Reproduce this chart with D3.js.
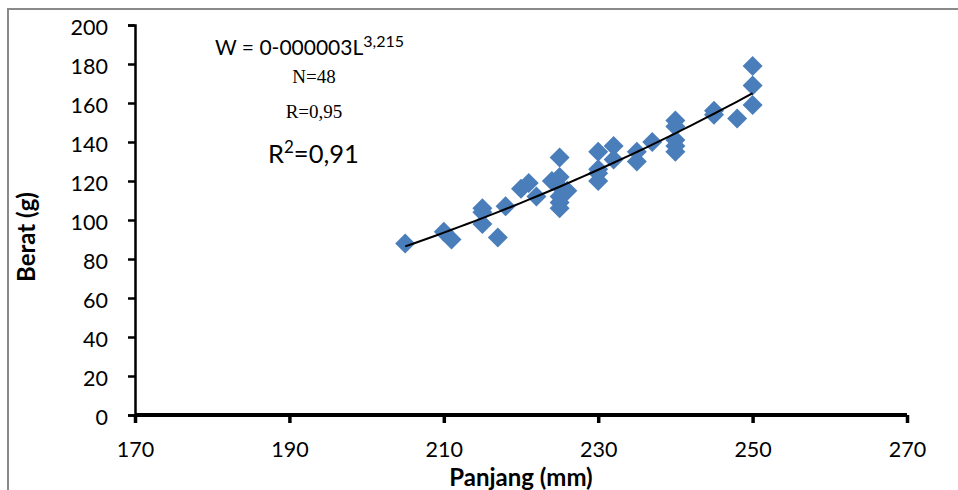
<!DOCTYPE html>
<html>
<head>
<meta charset="utf-8">
<script src="https://cdn.jsdelivr.net/npm/d3@7"></script>
<style>
  body { margin: 0; background: #fff; }
  text { font-family: Lato, "Open Sans", sans-serif; fill: #000; }
</style>
</head>
<body>
<div id="chart"></div>
<script>
var width = 958;
var height = 490;

// Data: panjang (mm) dan berat (g)
var panjang = [205, 210, 211, 215, 215, 215, 217, 218, 220, 221, 222, 224,
               225, 225, 225, 225, 225, 225, 226, 230, 230, 230, 230, 232, 232,
               235, 235, 237, 240, 240, 240, 240, 240, 245, 245, 248, 250, 250, 250];
var berat   = [88, 94, 90, 106, 104, 98, 91, 107, 116, 119, 112, 120,
               132, 122, 117, 112, 109, 106, 115, 135, 126, 124, 120, 138, 131,
               135, 130, 140, 151, 148, 141, 138, 135, 156, 154, 152, 179, 169, 159];
var xTicks = [170, 190, 210, 230, 250, 270];
var yTicks = [0, 20, 40, 60, 80, 100, 120, 140, 160, 180, 200];

var svg = d3.select("#chart").append("svg")
            .attr("width", width)
            .attr("height", height);

// bingkai
svg.append("rect")
   .attr("x", 8).attr("y", 9)
   .attr("width", 960).attr("height", 500)
   .attr("fill", "none")
   .attr("stroke", "#8a8a8a")
   .attr("stroke-width", 2);

var x = d3.scaleLinear().domain([170, 270]).range([135, 907]);
var y = d3.scaleLinear().domain([0, 200]).range([415, 25]);

// sumbu Y
var gy = svg.append("g").attr("transform", "translate(" + x(170) + ",0)")
            .call(d3.axisLeft(y).tickValues(yTicks).tickSize(7).tickPadding(20));
gy.select(".domain").attr("stroke-width", 2.5).attr("stroke", "#000");
gy.selectAll(".tick line").attr("stroke-width", 2.5);
gy.selectAll(".tick text").style("font-size", "21.5px").attr("dy", "0.42em");

// sumbu X
var gx = svg.append("g").attr("transform", "translate(0," + y(0) + ")")
            .call(d3.axisBottom(x).tickValues(xTicks).tickSize(8).tickPadding(19));
gx.select(".domain").attr("stroke-width", 4).attr("stroke", "#000")
  .attr("d", "M" + x(170) + ",0H" + x(270));
gx.selectAll(".tick line").attr("stroke-width", 3.5);
gx.selectAll(".tick text").style("font-size", "21.5px");

// judul sumbu
svg.append("text")
   .attr("transform", "translate(35,237) rotate(-90)")
   .attr("text-anchor", "middle")
   .style("font-size", "24px").style("font-weight", "bold")
   .text("Berat (g)");
svg.append("text")
   .attr("x", 521).attr("y", 486)
   .attr("text-anchor", "middle")
   .style("font-size", "24px").style("font-weight", "bold")
   .text("Panjang (mm)");

// titik data (belah ketupat)
var pts = panjang.map(function(p, i) { return [p, berat[i]]; });
svg.append("g").selectAll("path")
   .data(pts)
   .enter().append("path")
   .attr("transform", function(d) { return "translate(" + x(d[0]) + "," + y(d[1]) + ")"; })
   .attr("d", "M0,-10L10,0L0,10L-10,0Z")
   .attr("fill", "#4a7ebb");

// garis tren power (regresi log-log)
var lx = pts.map(function(d) { return Math.log(d[0]); });
var ly = pts.map(function(d) { return Math.log(d[1]); });
var mx = d3.mean(lx), my = d3.mean(ly);
var b = d3.sum(lx, function(v, i) { return (v - mx) * (ly[i] - my); }) /
        d3.sum(lx, function(v) { return (v - mx) * (v - mx); });
var a = Math.exp(my - b * mx);
var trend = d3.range(d3.min(panjang), d3.max(panjang) + 0.5, 1)
              .map(function(L) { return [L, a * Math.pow(L, b)]; });
svg.append("path")
   .datum(trend)
   .attr("fill", "none")
   .attr("stroke", "#000")
   .attr("stroke-width", 2)
   .attr("d", d3.line().x(function(d) { return x(d[0]); }).y(function(d) { return y(d[1]); }));

// persamaan
var eq = svg.append("text").attr("x", 215).attr("y", 55).style("font-size", "21px");
eq.append("tspan").text("W = 0-000003L");
eq.append("tspan").attr("dy", -8).style("font-size", "16px").text("3,215");

svg.append("text").attr("x", 314).attr("y", 83).attr("text-anchor", "middle")
   .style("font-family", "'Liberation Serif', serif").style("font-size", "19px")
   .text("N=48");
svg.append("text").attr("x", 314).attr("y", 118).attr("text-anchor", "middle")
   .style("font-family", "'Liberation Serif', serif").style("font-size", "19px")
   .text("R=0,95");
var r2 = svg.append("text").attr("x", 268).attr("y", 163).style("font-size", "25.5px");
r2.append("tspan").text("R");
r2.append("tspan").attr("dy", -10).style("font-size", "17px").text("2");
r2.append("tspan").attr("dy", 10).text("=0,91");
</script>
</body>
</html>
